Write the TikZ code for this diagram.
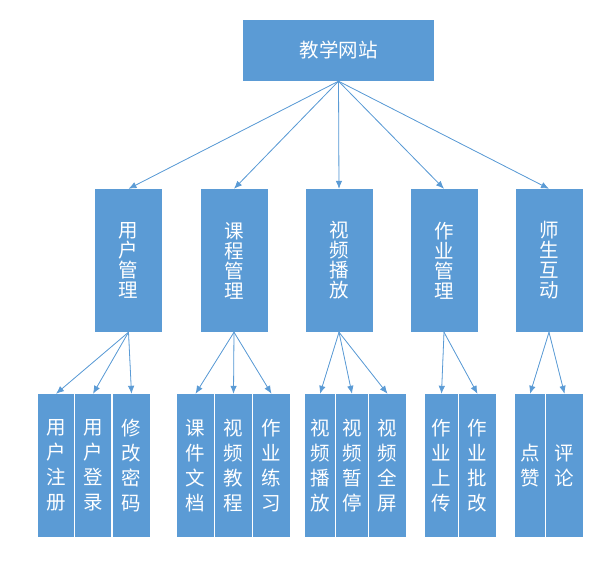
\documentclass[tikz,border=0pt]{standalone}
\usepackage{fontspec}
\newfontfamily\cjk{Noto Sans CJK SC}
\usepackage{tikz}
\usetikzlibrary{arrows.meta, positioning}
\definecolor{boxBlue}{HTML}{5B9BD5}
\tikzset{
    topBox/.style={rectangle, fill=boxBlue, text=white, inner sep=0pt, minimum width=191pt, minimum height=61pt, font=\cjk\fontsize{19.5}{20}\selectfont},
    midBox/.style={rectangle, fill=boxBlue, text=white, inner sep=0pt, align=center, minimum width=67pt, minimum height=143pt, font=\cjk\fontsize{19.5}{20}\selectfont},
    leafBox/.style={rectangle, fill=boxBlue, text=white, inner sep=0pt, align=center, minimum height=143pt, font=\cjk\fontsize{19.5}{25}\selectfont},
    treeEdge/.style={->, >={Latex[length=8pt, width=6.5pt]}, draw=boxBlue, fill=boxBlue, line width=0.8pt},
}
\newcommand{\drawEdge}[2]{
    \draw[treeEdge] (#1.south) -- (#2.north);
}
\begin{document}
\begin{tikzpicture}[x=1pt, y=-1pt]
    \useasboundingbox (0, 0) rectangle (615, 566);

    % root
    \node[topBox] (R) at (338.5, 50.5) {教学网站};

    % modules
    \node[midBox] (M1) at (128.5, 260.5) {用\\户\\管\\理};
    \node[midBox] (M2) at (234, 260.5) {课\\程\\管\\理};
    \node[midBox] (M3) at (339, 260.5) {视\\频\\播\\放};
    \node[midBox] (M4) at (444, 260.5) {作\\业\\管\\理};
    \node[midBox] (M5) at (549, 260.5) {师\\生\\互\\动};

    % functions
    \node[leafBox, minimum width=36pt] (L11) at (56, 465.5) {用\\户\\注\\册};
    \node[leafBox, minimum width=36pt] (L12) at (93, 465.5) {用\\户\\登\\录};
    \node[leafBox, minimum width=37pt] (L13) at (131.5, 465.5) {修\\改\\密\\码};

    \node[leafBox, minimum width=37pt] (L21) at (195.5, 465.5) {课\\件\\文\\档};
    \node[leafBox, minimum width=37pt] (L22) at (233.5, 465.5) {视\\频\\教\\程};
    \node[leafBox, minimum width=37pt] (L23) at (271.5, 465.5) {作\\业\\练\\习};

    \node[leafBox, minimum width=30pt] (L31) at (320, 465.5) {视\\频\\播\\放};
    \node[leafBox, minimum width=32pt] (L32) at (352, 465.5) {视\\频\\暂\\停};
    \node[leafBox, minimum width=37pt] (L33) at (387.5, 465.5) {视\\频\\全\\屏};

    \node[leafBox, minimum width=33pt] (L41) at (441.5, 465.5) {作\\业\\上\\传};
    \node[leafBox, minimum width=37pt] (L42) at (477.5, 465.5) {作\\业\\批\\改};

    \node[leafBox, minimum width=30pt] (L51) at (530, 465.5) {点\\赞};
    \node[leafBox, minimum width=37pt] (L52) at (564.5, 465.5) {评\\论};

    % links
    \drawEdge{R}{M1}
    \drawEdge{R}{M2}
    \drawEdge{R}{M3}
    \drawEdge{R}{M4}
    \drawEdge{R}{M5}

    \drawEdge{M1}{L11}
    \drawEdge{M1}{L12}
    \drawEdge{M1}{L13}
    \drawEdge{M2}{L21}
    \drawEdge{M2}{L22}
    \drawEdge{M2}{L23}
    \drawEdge{M3}{L31}
    \drawEdge{M3}{L32}
    \drawEdge{M3}{L33}
    \drawEdge{M4}{L41}
    \drawEdge{M4}{L42}
    \drawEdge{M5}{L51}
    \drawEdge{M5}{L52}

\end{tikzpicture}
\end{document}
